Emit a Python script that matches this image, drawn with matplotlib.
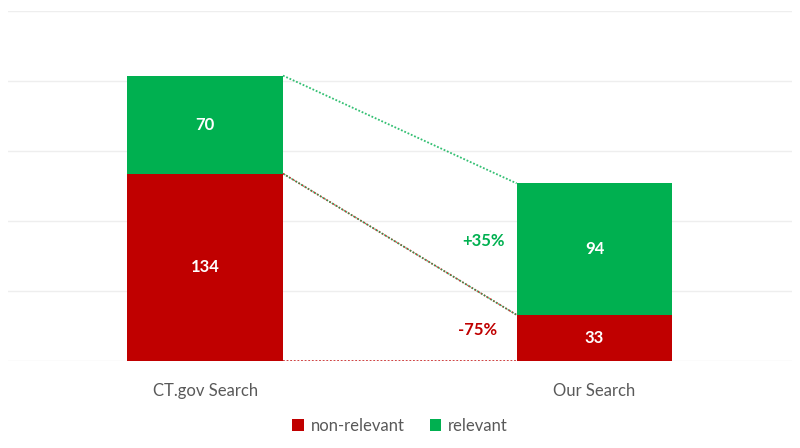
import numpy as np
import matplotlib.pyplot as plt

plt.rcParams['font.family'] = ['Lato', 'DejaVu Sans']

# Data
categories = ['CT.gov Search', 'Our Search']
non_relevant = [134, 33]
relevant = [70, 94]
change_labels = ['+35%', '-75%']

red = '#c00000'
green = '#00b050'

fig = plt.figure(figsize=(8, 4.48), dpi=100)
ax = fig.add_axes([0.01, 0.194, 0.98, 0.781])

x = np.arange(len(categories))
w = 0.4
nr = np.array(non_relevant)
rel = np.array(relevant)

ax.bar(x, nr, w, color=red, label='non-relevant', zorder=3)
ax.bar(x, rel, w, bottom=nr, color=green, label='relevant', zorder=3)

# value labels
for i in range(len(x)):
    ax.text(x[i], nr[i] / 2, str(nr[i]), ha='center', va='center',
            color='white', fontsize=12, fontweight='bold', zorder=4)
    ax.text(x[i], nr[i] + rel[i] / 2, str(rel[i]), ha='center', va='center',
            color='white', fontsize=12, fontweight='bold', zorder=4)

# connector lines between the bars
xs = [x[0] + w / 2, x[1] - w / 2]
ax.plot(xs, nr + rel, ls=(0, (1, 1)), color=green, lw=1.3, alpha=0.8, zorder=2)
ax.plot(xs, nr, ls=(0, (1, 1)), color=red, lw=1.3, alpha=0.8, zorder=2)
ax.plot(xs, nr, ls=(1, (1, 1)), color=green, lw=1.0, alpha=0.8, zorder=2)
ax.plot(xs, [0, 0], ls=(0, (1, 1)), color=red, lw=1.3, alpha=0.8, zorder=2)

# change labels
ax.text(x[1] - w / 2 - 0.03, 86, change_labels[0], ha='right', va='center',
        color=green, fontsize=12, fontweight='bold')
ax.text(x[1] - w / 2 - 0.05, 22, change_labels[1], ha='right', va='center',
        color=red, fontsize=12, fontweight='bold')

ax.set_xlim(-0.506, 1.507)
ax.set_ylim(0, 250)
ax.set_yticks(np.arange(0, 251, 50))
ax.set_yticklabels([])
ax.yaxis.grid(True, color='#eeeeee', lw=1, zorder=0)
ax.tick_params(length=0)
ax.set_xticks(x)
ax.set_xticklabels(categories, fontsize=12, color='#595959')
ax.tick_params(axis='x', pad=16)
for s in ax.spines.values():
    s.set_visible(False)

ax.legend(loc='center', bbox_to_anchor=(0.5, -0.185), ncol=2, frameon=False,
          fontsize=12, labelcolor='#595959', handlelength=0.7, handleheight=0.7,
          handletextpad=0.4, columnspacing=1.5)

fig.savefig('out.png', dpi=100)
